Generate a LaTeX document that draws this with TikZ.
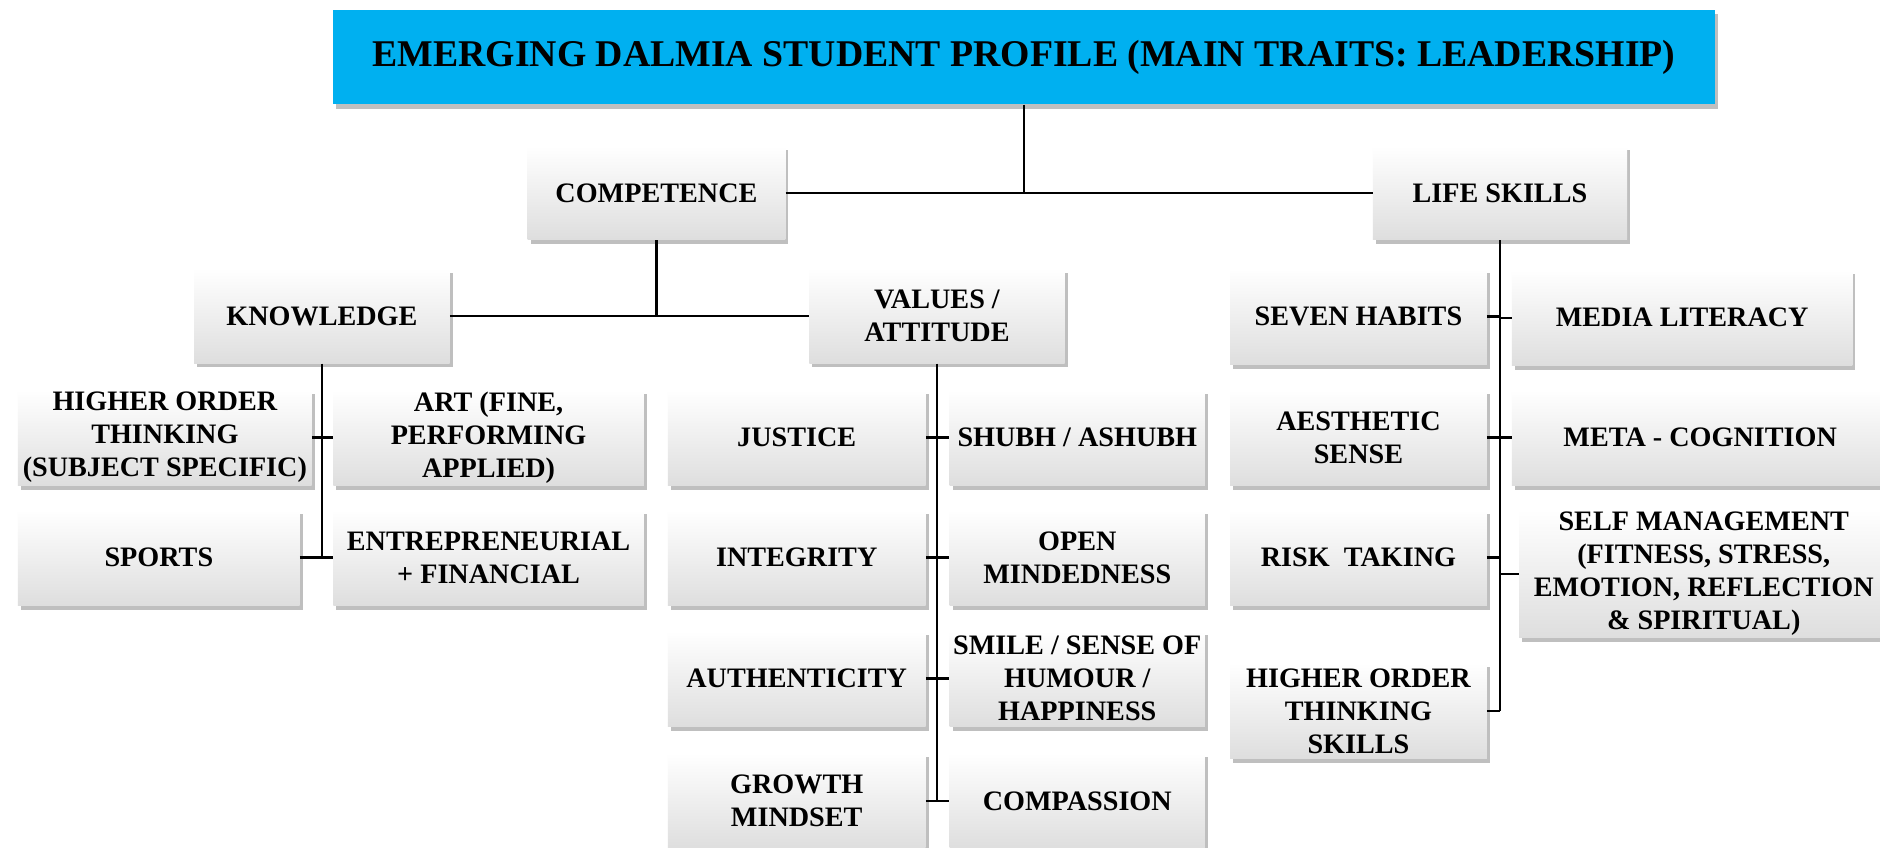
\documentclass[tikz,border=0pt]{standalone}
\usepackage{fontspec}
\setmainfont{Liberation Serif}
\usetikzlibrary{shadows}
\definecolor{titlecyan}{HTML}{00B0F0}
\begin{document}
\begin{tikzpicture}[x=1pt,y=-1pt,
  shadowed/.style={drop shadow={shadow xshift=2.5pt,shadow yshift=-3.5pt,fill=black!55,opacity=0.45}},
  box/.style={shadowed,shading=axis,top color=white,middle color=white,bottom color=black!13,
    align=center,inner sep=1pt,font=\bfseries\fontsize{23.5}{27.5}\selectfont},
  tbox/.style={shadowed,fill=titlecyan,align=center,inner sep=1pt,font=\bfseries\fontsize{31.5}{36}\selectfont},
  conn/.style={line width=1.9pt,black}]
\clip (0,0) rectangle (1568,707);
\fill[white] (0,0) rectangle (1568,707);
% title
\node[tbox,minimum width=1152,minimum height=79] (title) at (854,47.5) {EMERGING DALMIA STUDENT PROFILE (MAIN TRAITS: LEADERSHIP)};
% level 1
\node[box,minimum width=215,minimum height=78] (comp) at (547.5,161) {COMPETENCE};
\node[box,minimum width=212,minimum height=78] (life) at (1251,161) {LIFE SKILLS};
% level 2
\node[box,minimum width=213,minimum height=79] (know) at (268.5,263.5) {KNOWLEDGE};
\node[box,minimum width=213,minimum height=79] (val) at (781.5,263.5) {VALUES /\\ATTITUDE};
% knowledge children
\node[box,minimum width=245,minimum height=80] (hot) at (137.5,365) {HIGHER ORDER\\THINKING\\(SUBJECT SPECIFIC)};
\node[box,minimum width=259,minimum height=80] (art) at (407.5,365) {ART (FINE,\\PERFORMING\\APPLIED)};
\node[box,minimum width=235,minimum height=80] (sports) at (132.5,465) {SPORTS};
\node[box,minimum width=259,minimum height=80] (ent) at (407.5,465) {ENTREPRENEURIAL\\+ FINANCIAL};
% values children
\node[box,minimum width=215,minimum height=80] (just) at (664.5,365) {JUSTICE};
\node[box,minimum width=213,minimum height=80] (shubh) at (898.5,365) {SHUBH / ASHUBH};
\node[box,minimum width=215,minimum height=80] (integ) at (664.5,465) {INTEGRITY};
\node[box,minimum width=213,minimum height=80] (open) at (898.5,465) {OPEN\\MINDEDNESS};
\node[box,minimum width=215,minimum height=80] (auth) at (664.5,566) {AUTHENTICITY};
\node[box,minimum width=213,minimum height=80] (smile) at (898.5,566) {SMILE / SENSE OF\\HUMOUR /\\HAPPINESS};
\node[box,minimum width=215,minimum height=80] (growth) at (664.5,668) {GROWTH\\MINDSET};
\node[box,minimum width=213,minimum height=80] (compa) at (898.5,668) {COMPASSION};
% life skills children
\node[box,minimum width=214,minimum height=80] (seven) at (1133,264) {SEVEN HABITS};
\node[box,minimum width=284,minimum height=80] (media) at (1403,265) {MEDIA LITERACY};
\node[box,minimum width=214,minimum height=80] (aest) at (1133,365) {AESTHETIC\\SENSE};
\node[box,minimum width=314,minimum height=80] (meta) at (1418,365) {META - COGNITION};
\node[box,minimum width=214,minimum height=80] (risk) at (1133,465) {RISK~~TAKING};
\node[box,minimum width=308,minimum height=107] (self) at (1421,478.5) {SELF MANAGEMENT\\(FITNESS, STRESS,\\EMOTION, REFLECTION\\\& SPIRITUAL)};
\node[box,minimum width=214,minimum height=80] (hots) at (1133,593) {HIGHER ORDER\\THINKING\\SKILLS};
% connectors
\coordinate (tj) at (title.south |- comp.east);
\draw[conn] (title.south) -- (tj);
\draw[conn] (comp.east) -- (life.west);
\coordinate (cj) at (comp.south |- know.east);
\draw[conn] (comp.south) -- (cj);
\draw[conn] (know.east) -- (val.west);
% knowledge tree
\coordinate (kb) at (know.south |- sports.east);
\draw[conn] (know.south) -- (kb);
\draw[conn] (hot.east) -- (art.west);
\draw[conn] (sports.east) -- (ent.west);
% values tree
\coordinate (vb) at (val.south |- growth.east);
\draw[conn] (val.south) -- (vb);
\draw[conn] (just.east) -- (shubh.west);
\draw[conn] (integ.east) -- (open.west);
\draw[conn] (auth.east) -- (smile.west);
\draw[conn] (growth.east) -- (compa.west);
% life skills tree
\coordinate (lb) at (life.south |- hots.east);
\draw[conn] (life.south) -- (lb);
\draw[conn] (seven.east) -- (seven.east -| life.south);
\draw[conn] (media.west) -- (media.west -| life.south);
\draw[conn] (aest.east) -- (meta.west);
\draw[conn] (risk.east) -- (risk.east -| life.south);
\draw[conn] (self.west) -- (self.west -| life.south);
\draw[conn] (hots.east) -- (lb);
\end{tikzpicture}
\end{document}
